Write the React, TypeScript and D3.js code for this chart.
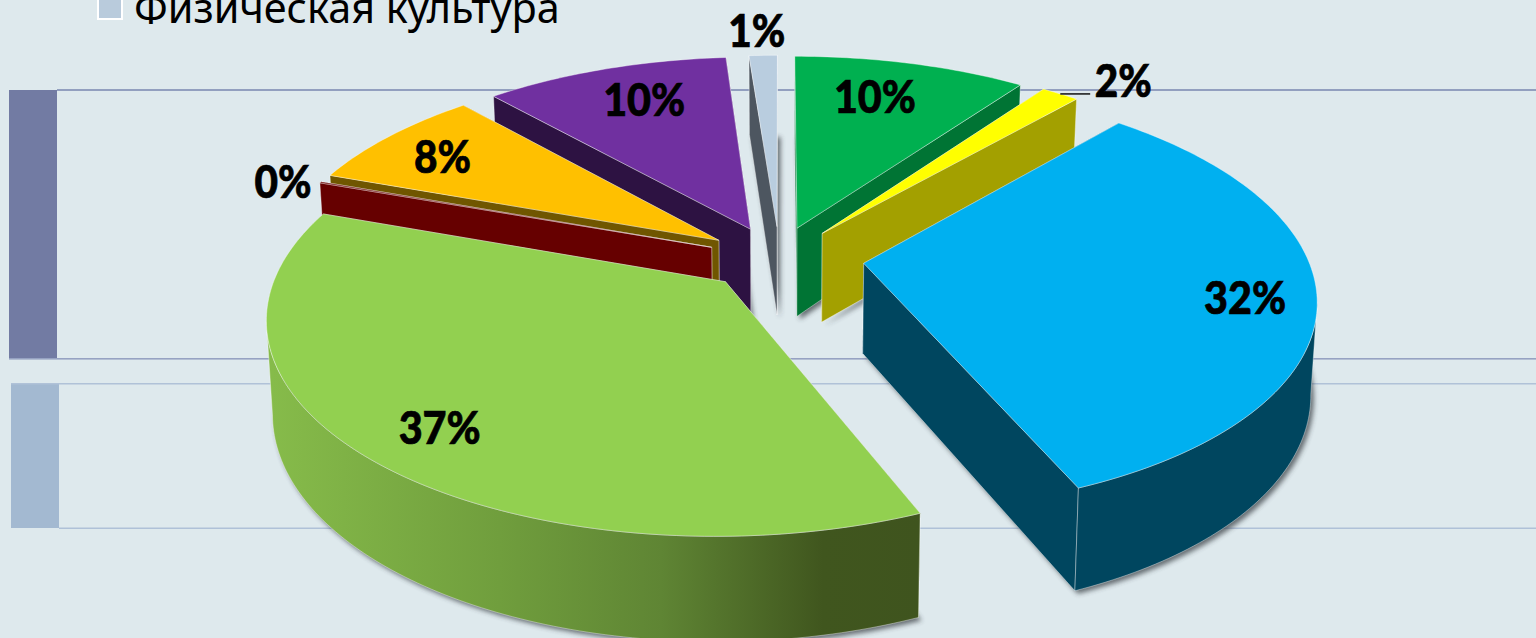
import React from "react";
import * as d3 from "d3";

// ---- data (percent shares, clockwise from 12 o'clock) ----
const categories = ["Зелёный", "Жёлтый", "Голубой", "Салатовый", "Бордовый", "Оранжевый", "Фиолетовый", "Физическая культура"];
const values = [9.9, 1.6, 32.2, 36.7, 0.1, 7.9, 10.4, 1.2];

// ---- colours ----
const topColors = ["#00B050", "#FFFF00", "#00B0F0", "#92D050", "#660000", "#FFC000", "#7030A0", "#B9CDDF"];
const wallColors = ["#007434", "#A3A000", "#00465F", "#5F8530", "#660000", "#705600", "#2D1242", "#4D5660"];

// ---- 3-D layout ----
const W = 1536, H = 638;
const CX = 780, CY = 258, A = 444, B = 207, K = 0.155, DEPTH = 90, SHRINK = 0.012;
const EXPLODE_X = 0.183, EXPLODE_Y = 0.155;
const explodeXFactor = [0.7, 0.85, 1.04, 0.96, 0.9, 0.92, 0.95, 1.0];
const drawOrder = [7, 6, 0, 1, 5, 4, 3, 2];
const labelAngle = [15.2, 41.8, 100, 223.2, 288.4, 303.2, 338.4, 357.3];
const labelRadius = [0.929, 1.339, 1.034, 0.994, 1.252, 0.984, 0.944, 1.336];

const project = (X: number, Y: number, Z: number): [number, number] => {
  const w = (1 - K * Y) * (1 + SHRINK * Z);
  return [CX + (A * X) / w, CY + (B * Y) / w + (DEPTH * Z) / (1 - K * Y)];
};

const pieGen = d3.pie<number>().sort(null).value((d) => d);
const arcs = pieGen(values);
const line = d3.line();

const arcPoints = (s: number, e: number, ox: number, oy: number, Z: number) => {
  const n = Math.max(2, Math.ceil(((e - s) * 180) / Math.PI));
  return d3.range(n + 1).map((i) => {
    const t = s + ((e - s) * i) / n;
    return project(ox + Math.sin(t), oy - Math.cos(t), Z);
  });
};

const slices = arcs.map((a, i) => {
  const m = (a.startAngle + a.endAngle) / 2;
  const ox = EXPLODE_X * explodeXFactor[i] * Math.sin(m);
  const oy = -EXPLODE_Y * Math.cos(m);
  const topArc = arcPoints(a.startAngle, a.endAngle, ox, oy, 0);
  const botArc = arcPoints(a.startAngle, a.endAngle, ox, oy, 1);
  const apexT = project(ox, oy, 0);
  const apexB = project(ox, oy, 1);
  // rim wall only where it faces the viewer (x falls as the angle advances)
  const front = topArc
    .map((_, k) => k)
    .filter((k) => {
      const next = topArc[k + 1] ?? topArc[k];
      const prev = topArc[k - 1] ?? topArc[k];
      return next[0] - topArc[k][0] < 0 || topArc[k][0] - prev[0] < 0;
    });
  const frontTop = front.map((k) => topArc[k]);
  const frontBot = front.map((k) => botArc[k]);
  const startWall = line([apexT, topArc[0], botArc[0], apexB])! + "Z";
  const endWall = line([apexT, topArc[topArc.length - 1], botArc[botArc.length - 1], apexB])! + "Z";
  return {
    i,
    top: line([apexT, ...topArc])! + "Z",
    bottom: line([apexB, ...botArc])! + "Z",
    outer: front.length > 1 ? line([...frontTop, ...[...frontBot].reverse()])! + "Z" : null,
    // the wall that faces the viewer is drawn last of the two
    walls: m < Math.PI ? [startWall, endWall] : [endWall, startWall],
    x0: d3.min(botArc, (p) => p[0])!,
    x1: d3.max(topArc, (p) => p[0])!,
  };
});

const labels = values.map((v, i) => {
  const t = (labelAngle[i] * Math.PI) / 180;
  const [x, y] = project(labelRadius[i] * Math.sin(t), -labelRadius[i] * Math.cos(t), 0);
  return { x, y, text: `${Math.round(v)}%` };
});

// leader for the small yellow slice, from its rim to its label
const leader = (() => {
  const s = arcs[1];
  const m = (s.startAngle + s.endAngle) / 2;
  const [x, y] = project(EXPLODE_X * explodeXFactor[1] * Math.sin(m) + Math.sin(m), -EXPLODE_Y * Math.cos(m) - Math.cos(m), 0);
  return { x1: x, y1: y, x2: labels[1].x - 33, y2: y };
})();

const EDGE = { stroke: "#ffffff", strokeOpacity: 0.38, strokeWidth: 1, strokeLinejoin: "round" as const };

export default function App() {
  const lg = slices[3];
  return (
    <svg width={W} height={H} viewBox={`0 0 ${W} ${H}`}
      style={{ position: "fixed", left: 0, top: 0, display: "block", background: "#DEE9ED" }}>
      <defs>
        <linearGradient id="lgWall" gradientUnits="userSpaceOnUse" x1={lg.x0} x2={lg.x1} y1={0} y2={0}>
          <stop offset="0" stopColor="#86BB4A" />
          <stop offset="0.35" stopColor="#709E3D" />
          <stop offset="0.6" stopColor="#5F8534" />
          <stop offset="0.85" stopColor="#40561E" />
          <stop offset="1" stopColor="#3F541E" />
        </linearGradient>
        <filter id="shadow" x="-10%" y="-10%" width="120%" height="120%">
          <feGaussianBlur stdDeviation="2.6" />
        </filter>
      </defs>

      {/* backdrop bands */}
      <rect x={9} y={90} width={48} height={268} fill="#727BA3" />
      <rect x={11} y={384} width={48} height={144} fill="#A3B9D1" />
      <rect x={57} y={89} width={W - 57} height={2} fill="#929FBF" />
      <rect x={9} y={358} width={W - 9} height={1.6} fill="#96A2C2" />
      <rect x={11} y={383} width={W - 11} height={1.5} fill="#B0C2D8" />
      <rect x={59} y={527.5} width={W - 59} height={1.5} fill="#AFC1D8" />

      {/* legend fragment */}
      <rect x={98} y={-8} width={24} height={27} fill="#B9CBDC" stroke="#ffffff" strokeWidth={2} />
      <text x={134} y={23} fontFamily="'Noto Sans', 'Open Sans', sans-serif" fontSize={41.4} fill="#000">
        {categories[7]}
      </text>

      {/* cast shadows under everything */}
      <g filter="url(#shadow)" transform="translate(3,3)" opacity={0.7}>
        {slices.map((s) => (
          <path key={s.i} d={s.bottom} fill="#33383d" />
        ))}
      </g>

      {/* slices, back to front */}
      {drawOrder.map((i) => {
        const s = slices[i];
        const wall = i === 3 ? "url(#lgWall)" : wallColors[i];
        return (
          <g key={i}>
            {s.walls.map((d, k) => (
              <path key={k} d={d} fill={wallColors[i]} {...EDGE} />
            ))}
            {s.outer && <path d={s.outer} fill={wall} {...EDGE} />}
            <path d={s.top} fill={topColors[i]} {...EDGE} />
          </g>
        );
      })}

      {/* leader */}
      <line x1={leader.x1} y1={leader.y1} x2={leader.x2} y2={leader.y2} stroke="#111" strokeWidth={1.5} />

      {/* data labels */}
      {labels.map((l, i) => (
        <text key={i} x={l.x} y={l.y} textAnchor="middle" dominantBaseline="central"
          fontFamily="Lato, 'Open Sans', sans-serif" fontWeight={900} fontSize={46} fill="#000"
          stroke="#000" strokeWidth={0.7}
          textLength={l.text.length === 2 ? 57 : 82} lengthAdjust="spacingAndGlyphs">
          {l.text}
        </text>
      ))}
    </svg>
  );
}
